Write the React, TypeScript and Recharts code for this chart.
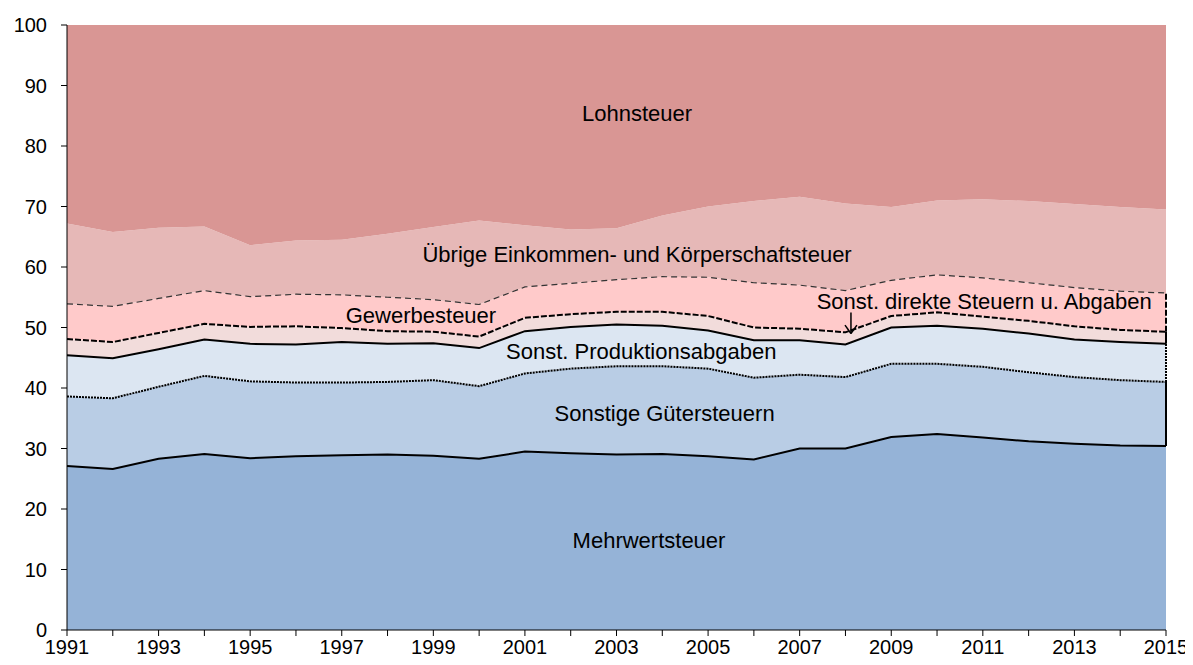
import React from "react";
import {
  ComposedChart,
  Area,
  Line,
  XAxis,
  YAxis,
  ReferenceLine,
  ReferenceDot,
} from "recharts";

// Anteile am Steueraufkommen in %, 1991–2015
const years = [
  1991, 1992, 1993, 1994, 1995, 1996, 1997, 1998, 1999, 2000, 2001, 2002, 2003,
  2004, 2005, 2006, 2007, 2008, 2009, 2010, 2011, 2012, 2013, 2014, 2015,
];
const mehrwertsteuer = [
  27.1, 26.6, 28.3, 29.1, 28.4, 28.7, 28.9, 29.0, 28.8, 28.3, 29.5, 29.2, 29.0,
  29.1, 28.7, 28.2, 30.0, 30.0, 31.9, 32.4, 31.8, 31.2, 30.8, 30.5, 30.4,
];
const sonstigeGuetersteuern = [
  11.5, 11.7, 11.9, 12.9, 12.7, 12.2, 12.0, 12.0, 12.5, 12.0, 12.9, 14.0, 14.6,
  14.5, 14.5, 13.5, 12.2, 11.8, 12.1, 11.6, 11.7, 11.4, 11.0, 10.8, 10.6,
];
const produktionsabgaben = [
  6.8, 6.6, 6.2, 6.0, 6.2, 6.3, 6.7, 6.3, 6.1, 6.3, 7.0, 6.9, 6.9, 6.7, 6.3,
  6.2, 5.7, 5.4, 6.0, 6.3, 6.3, 6.4, 6.2, 6.3, 6.3,
];
const direkteSteuern = [
  2.7, 2.7, 2.7, 2.6, 2.8, 3.0, 2.3, 2.1, 1.9, 1.9, 2.2, 2.1, 2.1, 2.3, 2.4,
  2.1, 1.9, 2.0, 1.9, 2.2, 2.0, 2.1, 2.2, 2.0, 2.0,
];
const gewerbesteuer = [
  5.8, 5.9, 5.7, 5.5, 5.0, 5.3, 5.5, 5.6, 5.3, 5.3, 5.1, 5.1, 5.3, 5.8, 6.4,
  7.4, 7.2, 6.9, 5.9, 6.2, 6.4, 6.3, 6.4, 6.4, 6.4,
];
const uebrigeEinkommen = [
  13.3, 12.3, 11.7, 10.6, 8.5, 8.9, 9.1, 10.5, 12.0, 13.9, 10.2, 8.9, 8.5,
  10.1, 11.7, 13.5, 14.6, 14.4, 12.1, 12.3, 13.0, 13.5, 13.8, 13.9, 13.8,
];
const lohnsteuer = [
  32.8, 34.2, 33.5, 33.3, 36.4, 35.6, 35.5, 34.5, 33.4, 32.3, 33.1, 33.8, 33.6,
  31.5, 30.0, 29.1, 28.4, 29.5, 30.1, 29.0, 28.8, 29.1, 29.6, 30.1, 30.5,
];
const yTicks = [0, 10, 20, 30, 40, 50, 60, 70, 80, 90, 100];

const FONT = "'Liberation Sans', Arial, sans-serif";

// bottom to top, with the outline drawn on top of each layer
const layers = [
  { key: "mwst", values: mehrwertsteuer, fill: "#95B3D7", line: { w: 2, dash: undefined, color: "#000" } },
  { key: "guet", values: sonstigeGuetersteuern, fill: "#B9CDE5", line: { w: 2, dash: "2 1", color: "#000" } },
  { key: "prod", values: produktionsabgaben, fill: "#DCE6F2", line: { w: 2, dash: undefined, color: "#000" } },
  { key: "dir", values: direkteSteuern, fill: "#F2DCDB", line: { w: 2, dash: "6 2", color: "#000" } },
  { key: "gew", values: gewerbesteuer, fill: "#FFCACA", line: { w: 1.2, dash: "6 4", color: "#333" } },
  { key: "ueb", values: uebrigeEinkommen, fill: "#E6B8B7", line: null },
  { key: "lohn", values: lohnsteuer, fill: "#D99694", line: null },
];

const data = years.map((year, i) => {
  const row: Record<string, number> = { year };
  let cum = 0;
  layers.forEach((l, k) => {
    row[l.key] = l.values[i];
    cum += l.values[i];
    row["c" + k] = Math.round(cum * 100) / 100;
  });
  return row;
});

const labels = [
  { text: "Lohnsteuer", x: 2003.45, y: 85.4 },
  { text: "Übrige Einkommen- und Körperschaftsteuer", x: 2003.45, y: 62.1 },
  { text: "Gewerbesteuer", x: 1998.73, y: 52.0 },
  { text: "Sonst. direkte Steuern u. Abgaben", x: 2011.03, y: 54.3 },
  { text: "Sonst. Produktionsabgaben", x: 2003.54, y: 46.1 },
  { text: "Sonstige Gütersteuern", x: 2004.05, y: 35.8 },
  { text: "Mehrwertsteuer", x: 2003.71, y: 14.8 },
];

export default function App() {
  const last = data[data.length - 1];
  const lastYear = years[years.length - 1];

  return (
    <div style={{ width: 1185, height: 649, fontFamily: FONT }}>
      <ComposedChart
        width={1185}
        height={649}
        data={data}
        margin={{ top: 17, right: 27, bottom: 0, left: 0 }}
      >
        <XAxis
          dataKey="year"
          type="number"
          domain={[1991, 2015]}
          ticks={years}
          interval={0}
          height={27}
          tickSize={6}
          tickMargin={4}
          tickFormatter={(v: number) => (v % 2 === 1 ? String(v) : "")}
          stroke="#000"
          tick={{ fill: "#000", fontSize: 20, fontFamily: FONT }}
        />
        <YAxis
          type="number"
          domain={[0, 100]}
          ticks={yTicks}
          width={59}
          tickSize={6}
          tickMargin={14}
          stroke="#000"
          tick={{ fill: "#000", fontSize: 20, fontFamily: FONT }}
        />
        {layers.map((l) => (
          <Area
            key={l.key}
            dataKey={l.key}
            stackId="a"
            type="linear"
            fill={l.fill}
            fillOpacity={1}
            stroke="none"
            isAnimationActive={false}
          />
        ))}
        {layers.map((l, k) =>
          l.line ? (
            <Line
              key={"line-" + l.key}
              dataKey={"c" + k}
              type="linear"
              stroke={l.line.color}
              strokeWidth={l.line.w}
              strokeDasharray={l.line.dash}
              dot={false}
              activeDot={false}
              isAnimationActive={false}
            />
          ) : null
        )}
        {/* right edge of the stacked bands */}
        {layers.slice(0, 4).map((l, k) => (
          <ReferenceLine
            key={"edge-" + l.key}
            segment={[
              { x: lastYear, y: last["c" + k] },
              { x: lastYear, y: last["c" + (k + 1)] },
            ]}
            stroke={l.line ? l.line.color : "#000"}
            strokeWidth={l.line ? l.line.w : 1}
            strokeDasharray={l.line ? l.line.dash : undefined}
          />
        ))}
        {/* pointer to the thin "Sonst. direkte Steuern" band */}
        <ReferenceLine
          segment={[
            { x: 2008.12, y: 52.5 },
            { x: 2008.12, y: 49.0 },
          ]}
          stroke="#000"
          strokeWidth={1.5}
        />
        <ReferenceLine
          segment={[
            { x: 2007.99, y: 50.4 },
            { x: 2008.12, y: 49.0 },
          ]}
          stroke="#000"
          strokeWidth={1.5}
        />
        <ReferenceLine
          segment={[
            { x: 2008.25, y: 50.4 },
            { x: 2008.12, y: 49.0 },
          ]}
          stroke="#000"
          strokeWidth={1.5}
        />
        {labels.map((lb) => (
          <ReferenceDot
            key={lb.text}
            x={lb.x}
            y={lb.y}
            r={0}
            shape={(p: any) => (
              <text
                x={p.cx}
                y={p.cy}
                textAnchor="middle"
                dominantBaseline="central"
                fontSize={22}
                fontFamily={FONT}
                fill="#000"
              >
                {lb.text}
              </text>
            )}
          />
        ))}
      </ComposedChart>
    </div>
  );
}
